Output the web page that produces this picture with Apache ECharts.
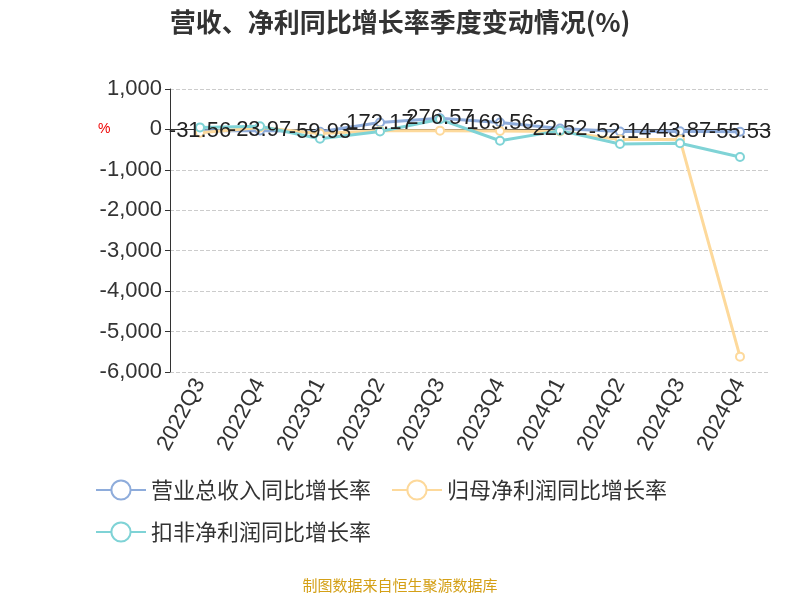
<!DOCTYPE html><html><head><meta charset="utf-8"><script src="https://cdn.jsdelivr.net/npm/echarts@6/dist/echarts.min.js"></script></head><body style="margin:0"><div id="c" style="width:800px;height:600px"></div><script>
const categories=['2022Q3','2022Q4','2023Q1','2023Q2','2023Q3','2023Q4','2024Q1','2024Q2','2024Q3','2024Q4'];
const revenue=[-31.56,-23.97,-59.93,172.17,276.57,169.56,22.52,-52.14,-43.87,-55.53];
const netProfit=[-80,50,-100,-30,-30,-40,-50,-250,-250,-5620];
const deductProfit=[50,80,-230,-50,250,-280,-30,-360,-340,-680];
const c=echarts.init(document.getElementById('c'));
const f='"Noto Sans CJK SC"';
c.setOption({
title:{text:'营收、净利同比增长率季度变动情况(%)',left:'center',top:4,textStyle:{fontSize:26,fontWeight:'bold',color:'#333',fontFamily:f}},
graphic:[{type:'text',left:'center',top:578,style:{text:'制图数据来自恒生聚源数据库',fill:'#d4a017',fontSize:15,fontFamily:f}},
{type:'text',left:98,top:122,style:{text:'%',fill:'#e00',fontSize:14}}],
grid:{left:170,right:30,top:89,bottom:228},
xAxis:{type:'category',data:categories,axisLabel:{rotate:62,fontSize:22,color:'#333',interval:0},axisLine:{lineStyle:{color:'#333'}},axisTick:{lineStyle:{color:'#333'}}},
yAxis:{type:'value',min:-6000,max:1000,interval:1000,axisLabel:{fontSize:22,color:'#333'},axisLine:{show:true,lineStyle:{color:'#333'}},axisTick:{show:true},splitLine:{lineStyle:{type:'dashed',color:'#ccc'}}},
legend:{bottom:52,left:90,width:680,itemGap:20,itemWidth:50,itemHeight:24,textStyle:{fontSize:22,color:'#333',fontFamily:f},data:['营业总收入同比增长率','归母净利润同比增长率','扣非净利润同比增长率']},
series:[
{name:'营业总收入同比增长率',type:'line',data:revenue,symbol:'emptyCircle',symbolSize:8,itemStyle:{color:'#8eacdb'},lineStyle:{width:3},label:{show:true,position:'inside',fontSize:22,color:'#222'}},
{name:'归母净利润同比增长率',type:'line',data:netProfit,symbol:'emptyCircle',symbolSize:8,itemStyle:{color:'#fdd99b'},lineStyle:{width:3}},
{name:'扣非净利润同比增长率',type:'line',data:deductProfit,symbol:'emptyCircle',symbolSize:8,itemStyle:{color:'#7fd3d6'},lineStyle:{width:3}}
]});
</script></body></html>
